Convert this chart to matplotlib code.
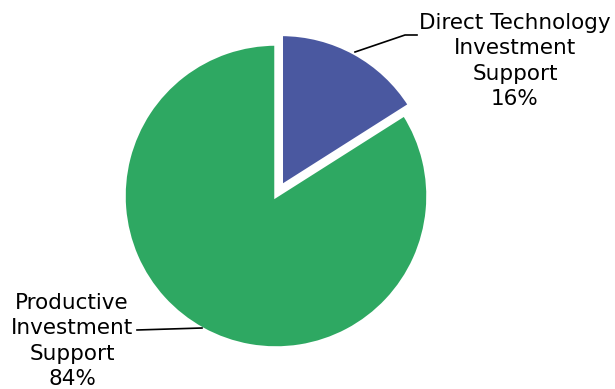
import matplotlib
matplotlib.use("Agg")
import matplotlib.pyplot as plt

labels = ["Direct Technology\nInvestment\nSupport", "Productive\nInvestment\nSupport"]
values = [16, 84]
colors = ["#4A58A0", "#2EA862"]

W, H = 615, 389
fig = plt.figure(figsize=(W / 100, H / 100), dpi=100)
cx, cy, R = 276, 196, 152
k = 1.2
ax = fig.add_axes([(cx - R * k) / W, (H - cy - R * k) / H, 2 * R * k / W, 2 * R * k / H])

ax.pie(values, colors=colors, startangle=90, counterclock=False,
       explode=[0.072, 0], radius=1,
       wedgeprops=dict(edgecolor="white", linewidth=2.5))
ax.set_xlim(-k, k)
ax.set_ylim(-k, k)
ax.axis("off")

def d(px, py):
    return ((px - cx) / R, (cy - py) / R)

fs = 15.5
ls = 1.32
# blue label
pts = [d(355, 52), d(405, 35), d(417, 35)]
ax.plot([p[0] for p in pts], [p[1] for p in pts], color="black", lw=1.2, clip_on=False)
tx, ty = d(515, 61)
ax.text(tx, ty, f"{labels[0]}\n{values[0]}%", ha="center", va="center",
        fontsize=fs, linespacing=ls, clip_on=False)
# green label
pts = [d(137, 330), d(202, 328)]
ax.plot([p[0] for p in pts], [p[1] for p in pts], color="black", lw=1.2, clip_on=False)
tx, ty = d(72, 341)
ax.text(tx, ty, f"{labels[1]}\n{values[1]}%", ha="center", va="center",
        fontsize=fs, linespacing=ls, clip_on=False)

fig.savefig("out.png", dpi=100)
